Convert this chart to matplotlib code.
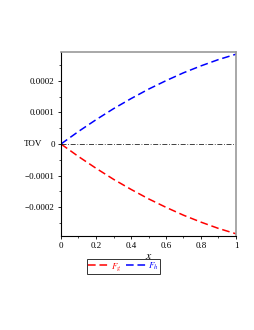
import numpy as np
import matplotlib
matplotlib.use("Agg")
import matplotlib.pyplot as plt
from matplotlib.ticker import MultipleLocator

# values
x = [0.0, 0.1, 0.2, 0.3, 0.4, 0.5, 0.6, 0.7, 0.8, 0.9, 1.0]
F_h = [0.0, 0.0000398, 0.000077, 0.000112, 0.000144, 0.000174,
       0.000201, 0.000226, 0.000248, 0.000268, 0.000285]
F_g = [0.0, -0.0000398, -0.000077, -0.000112, -0.000144, -0.000174,
       -0.000201, -0.000226, -0.000248, -0.000268, -0.000285]
tov = [0.0] * len(x)

plt.rcParams['font.family'] = ['Liberation Serif', 'DejaVu Serif']
plt.rcParams['mathtext.fontset'] = 'stix'

fig = plt.figure(figsize=(2.55, 3.3), dpi=100)
ax = fig.add_axes([61/255, 1 - 236/330, 175/255, 184/330])

ax.plot(x, F_g, color='red', ls=(0, (5, 2.5)), lw=1.1, label='$F_g$')
ax.plot(x, F_h, color='blue', ls=(0, (5, 2.5)), lw=1.1, label='$F_h$')
ax.plot(x, tov, color='#222222', ls=(0, (6, 2, 1, 2)), lw=0.6)

ax.set_xlim(0, 1)
ax.set_ylim(-0.000292, 0.000292)
ax.xaxis.set_minor_locator(MultipleLocator(0.1))
ax.yaxis.set_minor_locator(MultipleLocator(0.00005))
ax.set_xticks([0, 0.2, 0.4, 0.6, 0.8, 1.0])
ax.set_xticklabels(['0', '0.2', '0.4', '0.6', '0.8', '1'])
ax.set_yticks([-0.0002, -0.0001, 0, 0.0001, 0.0002])
ax.set_yticklabels(['\u22120.0002', '\u22120.0001', '0', '0.0001', '0.0002'])
ax.tick_params(labelsize=6.5, length=2.5, width=0.6, pad=2)
ax.tick_params(which='minor', length=1.5, width=0.5)

for s in ['top', 'right']:
    ax.spines[s].set_color('#999999')
    ax.spines[s].set_linewidth(1.2)
for s in ['left', 'bottom']:
    ax.spines[s].set_linewidth(0.8)

ax.text(-0.105, 0, 'TOV', fontsize=6.5, ha='right', va='center',
        transform=ax.get_yaxis_transform())
ax.set_xlabel('$x$', fontsize=8.5, labelpad=0)

leg = ax.legend(loc='upper center', bbox_to_anchor=(0.357, -0.125), ncol=2,
                fontsize=6.5, frameon=True, fancybox=False, handlelength=2.2,
                columnspacing=0.5, handletextpad=0.3, borderpad=0.15,
                borderaxespad=0)
leg.get_frame().set_edgecolor('black')
leg.get_frame().set_linewidth(0.7)
for t, c in zip(leg.get_texts(), ['red', 'blue']):
    t.set_color(c)

fig.savefig('out.png', dpi=100)
